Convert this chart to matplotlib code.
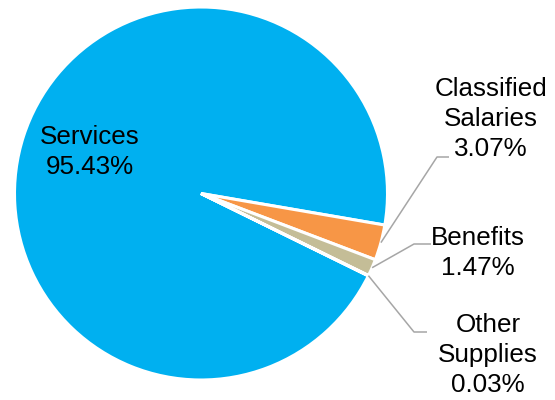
import matplotlib
matplotlib.use("Agg")
import matplotlib.pyplot as plt
import numpy as np

# Budget shares by category (percent)
categories = ["Services", "Classified\nSalaries", "Benefits", "Other\nSupplies"]
shares = [95.43, 3.07, 1.47, 0.03]
colors = ["#00B0F0", "#F79646", "#C4BD97", "#9BBB59"]

W, H = 555, 400
fig = plt.figure(figsize=(W / 100, H / 100), dpi=100)
ax = fig.add_axes([0, 0, 1, 1])

# pie centre and radius in pixels; data units are pie radii
cx, cy, R = 201.0, 193.5, 186.5


def px(x, y):
    return ((x - cx) / R, (cy - y) / R)


wedges, _ = ax.pie(
    shares,
    colors=colors,
    startangle=-26.2,
    counterclock=False,
    radius=1.0,
    wedgeprops=dict(edgecolor="white", linewidth=2.2),
)
ax.set_xlim(-cx / R, (W - cx) / R)
ax.set_ylim((cy - H) / R, cy / R)
ax.set_aspect("equal")
ax.axis("off")

font = dict(family=["Liberation Sans", "DejaVu Sans"], size=18.7, color="black")
spacing = 1.33

labels = [f"{c}\n{s:.2f}%" for c, s in zip(categories, shares)]

# Services label sits inside its slice
ax.text(*px(90, 152), labels[0], ha="center", va="center",
        multialignment="center", linespacing=spacing, **font)

# Outside labels with elbow leader lines: (elbow, line end, text centre)
outside = [
    ((437, 157), (449, 157), (491, 119)),
    ((414, 244), (431, 244), (478, 253)),
    ((414, 332), (427, 332), (488, 355)),
]
for w, lab, (elbow, end, tpos) in zip(wedges[1:], labels[1:], outside):
    mid = np.deg2rad((w.theta1 + w.theta2) / 2)
    start = (np.cos(mid), np.sin(mid))
    e = px(*elbow)
    f = px(*end)
    ax.plot([start[0], e[0], f[0]], [start[1], e[1], f[1]],
            color="#A6A6A6", lw=1.1, solid_capstyle="butt")
    ax.text(*px(*tpos), lab, ha="center", va="center",
            multialignment="center", linespacing=spacing, **font)

fig.savefig("out.png", dpi=100)
